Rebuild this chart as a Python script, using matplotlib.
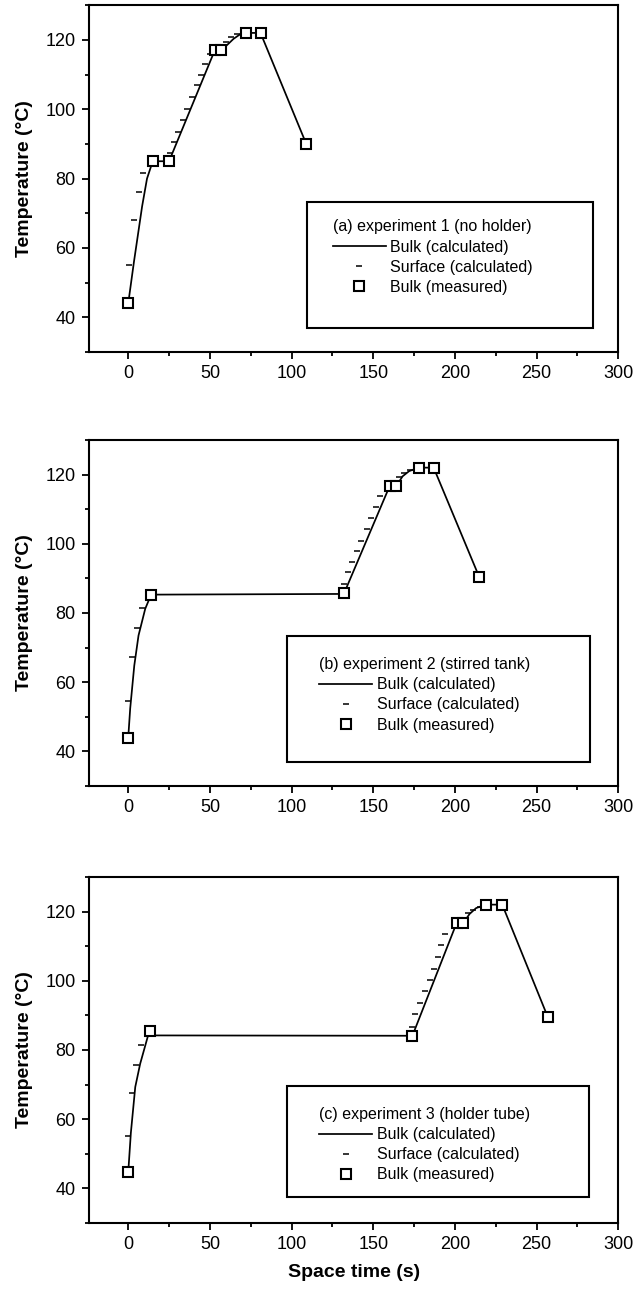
import matplotlib
matplotlib.use("Agg")
import matplotlib.pyplot as plt
from matplotlib.patches import Rectangle
from matplotlib.ticker import MultipleLocator

plt.rcParams['font.family'] = ['Liberation Sans', 'DejaVu Sans']

# --- data ---
# (a) experiment 1 (no holder)
meas1_t = [0, 15, 25, 53, 57, 72, 81, 109]
meas1_T = [44, 85, 85, 117, 117, 122, 122, 90]
bulk1_t = [0, 3.5, 8.5, 11.5, 15, 25, 53, 57, 60.5, 64.5, 68.5, 72, 81, 109]
bulk1_T = [44, 56, 72, 80, 85, 85, 117, 117, 118.5, 120.3, 121.6, 122, 122, 90]
surf1_t = [0.5, 3.5, 6.5, 9, 25.5, 28, 30.5, 33.5, 36, 39, 42, 44.5, 47, 50, 60, 63, 66.5]
surf1_T = [55, 68, 76, 81.5, 87.5, 90.5, 93.5, 97, 100, 103.5, 107, 110, 113, 116, 119.5, 120.8, 121.8]

# (b) experiment 2 (stirred tank)
meas2_t = [0, 14, 132, 160, 164, 178, 187, 215]
meas2_T = [44, 85.3, 85.7, 116.6, 116.6, 122, 122, 90.3]
bulk2_t = [0, 1.2, 3.7, 6.3, 10.4, 14, 132, 160, 164, 168, 172, 178, 187, 215]
bulk2_T = [44, 52.4, 64.8, 73.5, 81.2, 85.3, 85.5, 116.6, 116.6, 119.5, 121, 122, 122, 90.3]
surf2_t = [0, 2.6, 5.3, 8.4, 132, 134.5, 137, 140, 142.7, 146.2, 148.8, 151.9, 154.3, 166, 168.6, 172.7]
surf2_T = [54.7, 67.4, 75.6, 81.4, 88.3, 91.7, 94.6, 97.8, 100.8, 104.2, 107.5, 110.7, 113.8, 119.3, 120.5, 121.2]

# (c) experiment 3 (holder tube)
meas3_t = [0, 13.5, 174, 201, 205, 219, 229, 257]
meas3_T = [44.6, 85.4, 84.1, 116.6, 116.6, 122, 122, 89.4]
bulk3_t = [0, 1.6, 4.3, 7.3, 12.4, 15, 174, 201, 205, 209, 213, 219, 229, 257]
bulk3_T = [44.6, 56, 69.3, 76, 84.6, 84.2, 84.1, 116.6, 116.6, 119.3, 121, 122, 122, 89.4]
surf3_t = [0, 2.2, 4.9, 7.7, 173.7, 175.7, 178.8, 181.5, 184.5, 187, 189.4, 191.7, 193.7, 207.8, 211, 215.5]
surf3_T = [55, 67.6, 75.7, 81.5, 86.5, 90.3, 93.5, 97, 100.2, 103.5, 106.8, 110.2, 113.5, 119.5, 120.4, 121.4]

titles = ["(a) experiment 1 (no holder)",
          "(b) experiment 2 (stirred tank)",
          "(c) experiment 3 (holder tube)"]
labels = ["Bulk (calculated)", "Surface (calculated)", "Bulk (measured)"]

panels = [
    (meas1_t, meas1_T, bulk1_t, bulk1_T, surf1_t, surf1_T),
    (meas2_t, meas2_T, bulk2_t, bulk2_T, surf2_t, surf2_T),
    (meas3_t, meas3_T, bulk3_t, bulk3_T, surf3_t, surf3_T),
]

# axes rectangles (figure fraction) and legend boxes (axes fraction)
axes_pos = [[0.140, 0.728, 0.832, 0.268],
            [0.140, 0.3926, 0.832, 0.2674],
            [0.140, 0.0549, 0.832, 0.2674]]
leg_box = [(0.412, 0.069, 0.541, 0.363),
           (0.374, 0.069, 0.573, 0.365),
           (0.374, 0.075, 0.571, 0.321)]
leg_anchor = [(0.461, 0.382), (0.435, 0.372), (0.435, 0.335)]

fig = plt.figure(figsize=(6.36, 12.94), dpi=100)

for i, (mt, mT, bt, bT, st, sT) in enumerate(panels):
    ax = fig.add_axes(axes_pos[i])
    ax.plot(bt, bT, color='black', lw=1.25, label=labels[0], zorder=2)
    ax.plot(st, sT, ls='none', marker='_', ms=5, mew=1.1, color='black',
            label=labels[1], zorder=2)
    ax.plot(mt, mT, ls='none', marker='s', ms=7.5, mew=1.5, mfc='white',
            mec='black', label=labels[2], zorder=3)

    ax.set_xlim(-24, 300)
    ax.set_ylim(30, 130)
    ax.xaxis.set_major_locator(MultipleLocator(50))
    ax.xaxis.set_minor_locator(MultipleLocator(25))
    ax.yaxis.set_major_locator(MultipleLocator(20))
    ax.yaxis.set_minor_locator(MultipleLocator(10))
    ax.set_yticks([40, 60, 80, 100, 120])
    ax.tick_params(which='both', direction='out', top=False, right=False,
                   width=1.3, labelsize=13, pad=4.5)
    ax.tick_params(which='major', length=5)
    ax.tick_params(which='minor', length=3)
    for sp in ax.spines.values():
        sp.set_linewidth(1.5)

    ax.set_ylabel("Temperature (°C)", fontsize=14, fontweight='bold', labelpad=9)

    x0, y0, w, h = leg_box[i]
    ax.add_patch(Rectangle((x0, y0), w, h, transform=ax.transAxes,
                           fill=False, ec='black', lw=1.5, zorder=4))
    leg = ax.legend(title=titles[i], loc='upper left',
                    bbox_to_anchor=leg_anchor[i], frameon=False,
                    fontsize=11.5, title_fontsize=11.5, alignment='left',
                    handlelength=3.3, handletextpad=0.3, labelspacing=0.32,
                    borderpad=0, borderaxespad=0, numpoints=1)
    leg.set_zorder(5)

ax.set_xlabel("Space time (s)", fontsize=14, fontweight='bold', labelpad=8)

fig.savefig("out.png", dpi=100)
